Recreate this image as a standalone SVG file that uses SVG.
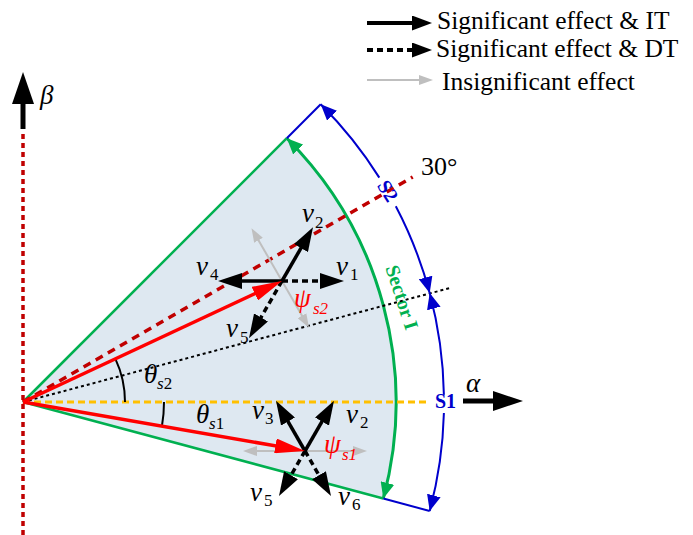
<svg xmlns="http://www.w3.org/2000/svg" width="693" height="535" viewBox="0 0 693 535">
<style>
.t{font-family:"Liberation Serif","Times New Roman",serif;fill:#000}
.r{font-family:"Liberation Serif","Times New Roman",serif;fill:#ff0000}
.lg{font-size:25.5px}
.it{font-style:italic}
.v{font-size:27px;font-style:italic}
.sub{font-size:17px;font-style:italic}
.num{font-size:17px;font-style:normal}
.sol{stroke:#000;stroke-width:3.5;fill:none}
.dsh{stroke:#000;stroke-width:3.5;fill:none;stroke-dasharray:6 4}
.gry{stroke:#bfbfbf;stroke-width:2;fill:none}
.red{stroke:#ff0000;stroke-width:3.5;fill:none}
.blu{stroke:#0000cc;stroke-width:2;fill:none}
.grn{stroke:#00b050;stroke-width:3;fill:none}
.lbl{font-family:"Liberation Serif","Times New Roman",serif;font-weight:bold;font-size:20px}
</style>
<defs>
<marker id="hb" viewBox="0 -8 24 16" refX="12" refY="0" markerWidth="24" markerHeight="16" markerUnits="userSpaceOnUse" orient="auto"><path d="M0,-8 L24,0 L0,8 z" fill="#000"/></marker>
<marker id="hl" viewBox="0 -7.5 20 15" refX="10" refY="0" markerWidth="20" markerHeight="15" markerUnits="userSpaceOnUse" orient="auto"><path d="M0,-7.5 L20,0 L0,7.5 z" fill="#000"/></marker>
<marker id="hg" viewBox="0 -5 14 10" refX="7" refY="0" markerWidth="14" markerHeight="10" markerUnits="userSpaceOnUse" orient="auto"><path d="M0,-5 L14,0 L0,5 z" fill="#bfbfbf"/></marker>
<marker id="hr" viewBox="0 -7.5 30 15" refX="15" refY="0" markerWidth="30" markerHeight="15" markerUnits="userSpaceOnUse" orient="auto"><path d="M0,-7.5 L30,0 L0,7.5 z" fill="#ff0000"/></marker>
<marker id="hbl" viewBox="0 -7 16 14" refX="16" refY="0" markerWidth="16" markerHeight="14" markerUnits="userSpaceOnUse" orient="auto-start-reverse"><path d="M0,-7 L16,0 L0,7 z" fill="#0000cc"/></marker>
<marker id="hgr" viewBox="0 -7 16 14" refX="16" refY="0" markerWidth="16" markerHeight="14" markerUnits="userSpaceOnUse" orient="auto-start-reverse"><path d="M0,-7 L16,0 L0,7 z" fill="#00b050"/></marker>
</defs>

<g id="sector">
<path d="M23,402 L286.8,138.2 A373,373 0 0 1 383.3,498.5 Z" fill="#dee8f1" stroke="none"/>
<line x1="23" y1="402" x2="286.8" y2="138.2" stroke="#00b050" stroke-width="2.5"/>
<line x1="23" y1="402" x2="383.3" y2="498.5" stroke="#00b050" stroke-width="2.5"/>
<path class="grn" d="M286.8,138.2 A373,373 0 0 1 383.3,498.5" marker-start="url(#hgr)" marker-end="url(#hgr)"/>
<text class="lbl" fill="#00b050" transform="translate(400,298) rotate(72)" text-anchor="middle" dominant-baseline="middle">Sector I</text>
</g>

<g id="axes">
<line x1="23" y1="535" x2="23" y2="131" stroke="#c00000" stroke-width="3.5" stroke-dasharray="5 4"/>
<line x1="23" y1="129" x2="23" y2="102" stroke="#000" stroke-width="5"/>
<polygon points="12,104 23,72 34,104" fill="#000"/>
<text class="t it" x="40" y="104" font-size="27">β</text>
<line x1="23" y1="402" x2="430" y2="402" stroke="#ffc000" stroke-width="3" stroke-dasharray="7 4"/>
<line x1="463" y1="401" x2="495" y2="401" stroke="#000" stroke-width="5"/>
<polygon points="493,391 523,401 493,411" fill="#000"/>
<text class="t it" x="466" y="392" font-size="27">α</text>
<line x1="23" y1="402" x2="450" y2="288" stroke="#000" stroke-width="2" stroke-dasharray="3 3"/>
<line x1="23" y1="402" x2="412.7" y2="177" stroke="#c00000" stroke-width="3.5" stroke-dasharray="8 6"/>
<text class="t" x="421" y="175" font-size="26">30°</text>
</g>

<g id="boundary">
<line class="blu" x1="286.8" y1="138.2" x2="320.7" y2="104.3"/>
<line class="blu" x1="383.3" y1="498.5" x2="429.7" y2="511"/>
<path class="blu" d="M320.7,104.3 A421,421 0 0 1 379.3,177.6" marker-start="url(#hbl)"/>
<path class="blu" d="M395.8,206.3 A421,421 0 0 1 429.7,293" marker-end="url(#hbl)"/>
<path class="blu" d="M429.7,293 A421,421 0 0 1 443.9,394.7" marker-start="url(#hbl)"/>
<path class="blu" d="M443.9,413 A421,421 0 0 1 429.7,511" marker-end="url(#hbl)"/>
<text class="lbl" fill="#0000cc" transform="translate(386,192) rotate(58)" text-anchor="middle" dominant-baseline="middle">S2</text>
<text class="lbl" fill="#0000cc" x="435" y="408">S1</text>
</g>

<g id="angles">
<path d="M125,402 A102,102 0 0 0 115.4,358.9" stroke="#000" stroke-width="2" fill="none"/>
<path d="M164,402 A141,141 0 0 1 161.9,426.5" stroke="#000" stroke-width="2" fill="none"/>
<text class="t" x="144" y="383"><tspan class="v" font-size="29">θ</tspan><tspan class="sub" x="157" y="389">s</tspan><tspan class="num">2</tspan></text>
<text class="t" x="196" y="423"><tspan class="v" font-size="29">θ</tspan><tspan class="sub" x="209" y="429">s</tspan><tspan class="num">1</tspan></text>
</g>

<g id="star2">
<line class="gry" x1="282" y1="281" x2="255" y2="234.2" marker-end="url(#hg)"/>
<line class="gry" x1="282" y1="281" x2="305.5" y2="321.7" marker-end="url(#hg)"/>
<line class="sol" x1="282" y1="281" x2="307" y2="237.7" marker-end="url(#hb)"/>
<line class="dsh" x1="282" y1="281" x2="332" y2="281" marker-end="url(#hb)"/>
<line class="sol" x1="282" y1="281" x2="230" y2="281" marker-end="url(#hb)"/>
<line class="dsh" x1="282" y1="281" x2="255" y2="327.8" marker-end="url(#hb)"/>
</g>

<g id="star1">
<line class="gry" x1="305" y1="451" x2="360" y2="451" marker-end="url(#hg)"/>
<line class="gry" x1="305" y1="451" x2="250" y2="451" marker-end="url(#hg)"/>
<line class="sol" x1="305" y1="451" x2="282" y2="411.2" marker-end="url(#hb)"/>
<line class="sol" x1="305" y1="451" x2="328" y2="411.2" marker-end="url(#hb)"/>
<line class="dsh" x1="305" y1="451" x2="285" y2="485.6" marker-end="url(#hb)"/>
<line class="dsh" x1="305" y1="451" x2="325" y2="485.6" marker-end="url(#hb)"/>
</g>

<g id="flux">
<line class="red" x1="23" y1="402" x2="268.4" y2="287.3" marker-end="url(#hr)"/>
<line class="red" x1="23" y1="402" x2="290.2" y2="448.4" marker-end="url(#hr)"/>
</g>

<g id="labels">
<text class="t" x="302" y="222"><tspan class="v">v</tspan><tspan class="num" x="315" y="228">2</tspan></text>
<text class="t" x="336" y="275"><tspan class="v">v</tspan><tspan class="num" x="350" y="280">1</tspan></text>
<text class="t" x="196" y="275"><tspan class="v">v</tspan><tspan class="num" x="210" y="280">4</tspan></text>
<text class="t" x="226" y="337"><tspan class="v">v</tspan><tspan class="num" x="240" y="343">5</tspan></text>
<text class="r" x="294" y="307"><tspan class="v">ψ</tspan><tspan class="sub" x="313" y="314">s2</tspan></text>
<text class="t" x="252" y="419"><tspan class="v">v</tspan><tspan class="num" x="265" y="424">3</tspan></text>
<text class="t" x="346" y="423"><tspan class="v">v</tspan><tspan class="num" x="360" y="428">2</tspan></text>
<text class="r" x="324" y="453"><tspan class="v">ψ</tspan><tspan class="sub" x="342" y="460">s1</tspan></text>
<text class="t" x="250" y="501"><tspan class="v">v</tspan><tspan class="num" x="264" y="506">5</tspan></text>
<text class="t" x="338" y="505"><tspan class="v">v</tspan><tspan class="num" x="352" y="510">6</tspan></text>
</g>

<g id="legend">
<line x1="367" y1="23" x2="422" y2="23" stroke="#000" stroke-width="4" marker-end="url(#hl)"/>
<text class="t lg" x="437" y="29">Significant effect &amp; IT</text>
<line x1="367" y1="50" x2="422" y2="50" stroke="#000" stroke-width="4" stroke-dasharray="6 4" marker-end="url(#hl)"/>
<text class="t lg" x="436" y="57">Significant effect &amp; DT</text>
<line x1="367" y1="80" x2="426" y2="80" stroke="#bfbfbf" stroke-width="2" marker-end="url(#hg)"/>
<text class="t lg" x="442" y="90">Insignificant effect</text>
</g>
</svg>
